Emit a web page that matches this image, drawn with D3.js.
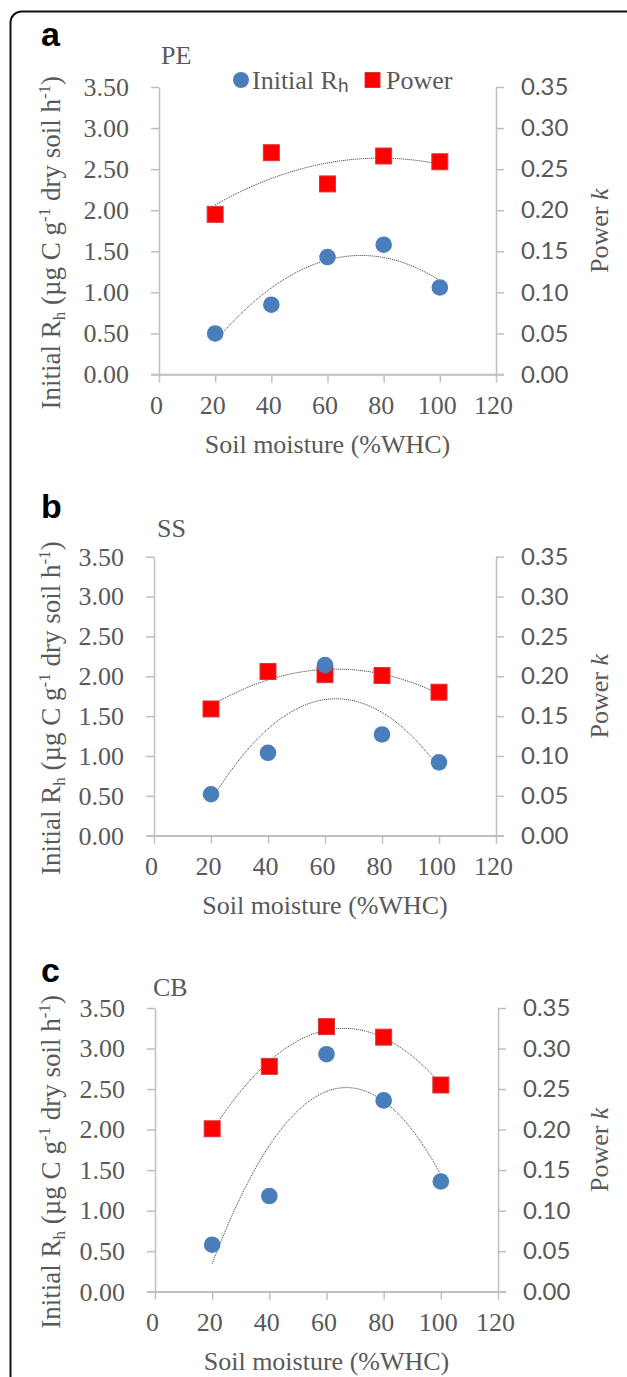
<!DOCTYPE html>
<html>
<head>
<meta charset="utf-8">
<script src="https://cdn.jsdelivr.net/npm/d3@7"></script>
<style>
  body { margin: 0; background: #fff; }
  svg { display: block; }
  .serif { font-family: "Liberation Serif", "DejaVu Serif", serif; fill: #595959; }
  .sans { font-family: Lato, "Liberation Sans", sans-serif; fill: #595959; }
</style>
</head>
<body>
<script>
// chart data
var moisture = [20, 40, 60, 80, 100];

var peRh = [0.50, 0.85, 1.43, 1.58, 1.06];
var pePower = [0.195, 0.270, 0.232, 0.266, 0.259];

var ssRh = [0.52, 1.04, 2.14, 1.27, 0.92];
var ssPower = [0.159, 0.206, 0.202, 0.201, 0.180];

var cbRh = [0.58, 1.18, 2.93, 2.36, 1.36];
var cbPower = [0.201, 0.278, 0.327, 0.314, 0.255];

var xTicks = [0, 20, 40, 60, 80, 100, 120];
var leftTicks = [0, 0.5, 1, 1.5, 2, 2.5, 3, 3.5];
var rightTicks = [0, 0.05, 0.1, 0.15, 0.2, 0.25, 0.3, 0.35];

var w = 627;
var h = 1377;

var blue = "#4a7ebb";
var red = "#ff0000";
var axisGrey = "#bfbfbf";

// panel layout (pixel boxes for each sub-chart)
var panels = [
  { letter: "a", site: "PE", rh: peRh, power: pePower, left: 159, right: 496, top: 87, bottom: 374.5, letterY: 46, siteX: 161, siteY: 64, legend: true },
  { letter: "b", site: "SS", rh: ssRh, power: ssPower, left: 154, right: 496, top: 556.7, bottom: 835.7, letterY: 518, siteX: 157, siteY: 537, legend: false },
  { letter: "c", site: "CB", rh: cbRh, power: cbPower, left: 155, right: 498, top: 1008, bottom: 1291.7, letterY: 982, siteX: 153, siteY: 996, legend: false }
];

var svg = d3.select("body")
            .append("svg")
            .attr("width", w)
            .attr("height", h);

// rounded frame, running off the right and bottom edges
svg.append("rect")
   .attr("x", 10.5)
   .attr("y", 11.5)
   .attr("width", 800)
   .attr("height", 1600)
   .attr("rx", 11)
   .attr("fill", "none")
   .attr("stroke", "#111")
   .attr("stroke-width", 2);

panels.forEach(drawPanel);


// least squares 2nd order polynomial, like the excel trendline
function quadFit(xs, ys) {
  var n = xs.length, s = [0, 0, 0, 0, 0], t = [0, 0, 0];
  for (var i = 0; i < n; i++) {
    for (var k = 0; k < 5; k++) s[k] += Math.pow(xs[i], k);
    for (var j = 0; j < 3; j++) t[j] += ys[i] * Math.pow(xs[i], j);
  }
  var m = [[s[0], s[1], s[2], t[0]], [s[1], s[2], s[3], t[1]], [s[2], s[3], s[4], t[2]]];
  for (var c = 0; c < 3; c++) {
    for (var r = c + 1; r < 3; r++) {
      var f = m[r][c] / m[c][c];
      for (var q = c; q < 4; q++) m[r][q] -= f * m[c][q];
    }
  }
  var coef = [0, 0, 0];
  for (var r2 = 2; r2 >= 0; r2--) {
    var sum = m[r2][3];
    for (var q2 = r2 + 1; q2 < 3; q2++) sum -= m[r2][q2] * coef[q2];
    coef[r2] = sum / m[r2][r2];
  }
  return function(x) { return coef[0] + coef[1] * x + coef[2] * x * x; };
}


function drawPanel(p) {
  var g = svg.append("g");

  var xScale = d3.scaleLinear().domain([0, 120]).range([p.left, p.right]);
  var yLeft = d3.scaleLinear().domain([0, 3.5]).range([p.bottom, p.top]);
  var yRight = d3.scaleLinear().domain([0, 0.35]).range([p.bottom, p.top]);

  // axes
  var xAxis = g.append("g")
     .attr("transform", "translate(0," + p.bottom + ")")
     .call(d3.axisBottom(xScale).tickValues(xTicks).tickSize(8).tickPadding(13).tickSizeOuter(0));

  var lAxis = g.append("g")
     .attr("transform", "translate(" + p.left + ",0)")
     .call(d3.axisLeft(yLeft).tickValues(leftTicks).tickSize(8).tickPadding(22).tickSizeOuter(0).tickFormat(d3.format(".2f")));

  var rAxis = g.append("g")
     .attr("transform", "translate(" + p.right + ",0)")
     .call(d3.axisRight(yRight).tickValues(rightTicks).tickSize(8).tickPadding(17).tickSizeOuter(0).tickFormat(d3.format(".2f")));

  [xAxis, lAxis, rAxis].forEach(function(a) {
    a.select(".domain").attr("stroke", axisGrey).attr("stroke-width", 1.5);
    a.selectAll(".tick line").attr("stroke", axisGrey).attr("stroke-width", 1.5);
    a.attr("font-size", null).attr("font-family", null);
  });

  // x axis line reaches the outer ticks at both ends
  g.append("line")
   .attr("x1", p.left - 8).attr("x2", p.right + 8)
   .attr("y1", p.bottom).attr("y2", p.bottom)
   .attr("stroke", axisGrey).attr("stroke-width", 1.5);

  xAxis.selectAll("text").attr("class", "serif").style("font-size", "26px").attr("dy", "0.7em").attr("dx", -3);
  lAxis.selectAll("text").attr("class", "serif").style("font-size", "26px");
  rAxis.selectAll("text").attr("class", "sans").style("font-size", "24px");

  // trendlines
  var xs = d3.range(20, 100.01, 1);
  [p.rh, p.power.map(function(v) { return v * 10; })].forEach(function(ys) {
    var fit = quadFit(moisture, ys);
    g.append("path")
     .datum(xs)
     .attr("d", d3.line()
                  .x(function(d) { return xScale(d); })
                  .y(function(d) { return yLeft(fit(d)); }))
     .attr("fill", "none")
     .attr("stroke", "#333")
     .attr("stroke-width", 1)
     .attr("stroke-dasharray", "1,1");
  });

  // Power k squares (right axis)
  g.selectAll(".sq")
   .data(p.power)
   .enter()
   .append("rect")
   .attr("x", function(d, i) { return xScale(moisture[i]) - 8; })
   .attr("y", function(d) { return yRight(d) - 8; })
   .attr("width", 16)
   .attr("height", 16)
   .attr("fill", red)
   .attr("stroke", "#d23a3a")
   .attr("stroke-width", 1);

  // initial Rh circles (left axis)
  g.selectAll(".dot")
   .data(p.rh)
   .enter()
   .append("circle")
   .attr("cx", function(d, i) { return xScale(moisture[i]); })
   .attr("cy", function(d) { return yLeft(d); })
   .attr("r", 8.3)
   .attr("fill", blue);

  // panel letter + site name
  g.append("text")
   .attr("x", 41)
   .attr("y", p.letterY)
   .attr("font-family", "Liberation Sans, Arial, sans-serif")
   .attr("font-weight", "bold")
   .attr("font-size", "34px")
   .attr("fill", "#000")
   .text(p.letter);

  g.append("text")
   .attr("class", "serif")
   .attr("x", p.siteX)
   .attr("y", p.siteY)
   .style("font-size", "26px")
   .text(p.site);

  // x axis title
  g.append("text")
   .attr("class", "serif")
   .attr("text-anchor", "middle")
   .attr("x", (p.left + p.right) / 2)
   .attr("y", p.bottom + 78)
   .style("font-size", "26px")
   .text("Soil moisture (%WHC)");

  // left y axis title
  var cy = (p.top + p.bottom) / 2 + 12;
  var lt = g.append("text")
   .attr("class", "serif")
   .attr("text-anchor", "middle")
   .attr("transform", "translate(60," + cy + ") rotate(-90)")
   .style("font-size", "27px");
  lt.append("tspan").text("Initial R");
  lt.append("tspan").attr("dy", 5).style("font-size", "17px").text("h");
  lt.append("tspan").attr("dy", -5).text(" (µg C g");
  lt.append("tspan").attr("dy", -10).style("font-size", "17px").text("-1");
  lt.append("tspan").attr("dy", 10).text(" dry soil h");
  lt.append("tspan").attr("dy", -10).style("font-size", "17px").text("-1");
  lt.append("tspan").attr("dy", 10).text(")");

  // right y axis title
  var rt = g.append("text")
   .attr("class", "serif")
   .attr("text-anchor", "middle")
   .attr("transform", "translate(608," + ((p.top + p.bottom) / 2) + ") rotate(-90)")
   .style("font-size", "26px");
  rt.append("tspan").text("Power ");
  rt.append("tspan").style("font-style", "italic").text("k");

  if (p.legend) {
    var ly = 80;
    g.append("circle").attr("cx", 241).attr("cy", ly).attr("r", 8).attr("fill", blue);
    var t1 = g.append("text").attr("class", "serif").attr("x", 252).attr("y", ly + 9).style("font-size", "26px");
    t1.append("tspan").text("Initial R");
    t1.append("tspan").attr("dy", 3).style("font-size", "19px").attr("class", "sans").text("h");
    g.append("rect").attr("x", 365).attr("y", ly - 7.5).attr("width", 15).attr("height", 15)
     .attr("fill", red).attr("stroke", "#d23a3a");
    g.append("text").attr("class", "serif").attr("x", 386).attr("y", ly + 9).style("font-size", "26px").text("Power");
  }
}
</script>
</body>
</html>
